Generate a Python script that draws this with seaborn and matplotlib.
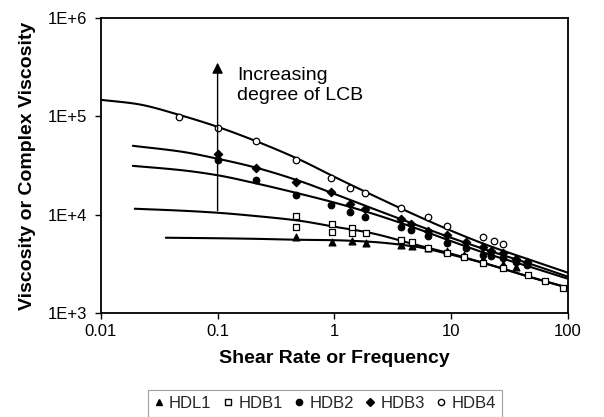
import matplotlib
matplotlib.use("Agg")
import matplotlib.pyplot as plt
from matplotlib.lines import Line2D
from matplotlib.ticker import FixedLocator, FixedFormatter, NullLocator
import seaborn as sns
import pandas as pd
import numpy as np

# ---------------- data ----------------
# fitted model curves (x = shear rate / frequency, y = viscosity)
hdb4_curve_x = [0.01, 0.02, 0.05, 0.1, 0.2, 0.5, 1, 2, 5, 10, 20, 50, 100]
hdb4_curve_y = [147100, 134000, 101200, 78200, 57700, 36500, 24300, 16370, 9880, 6890, 4960, 3410, 2580]

hdb3_curve_x = [0.0188, 0.05, 0.1, 0.2, 0.5, 1, 2, 5, 10, 20, 50, 100]
hdb3_curve_y = [50200, 43600, 37100, 30700, 22100, 16300, 11900, 7910, 5840, 4410, 3110, 2350]

hdb2_curve_x = [0.0188, 0.05, 0.1, 0.2, 0.5, 1, 2, 5, 10, 20, 50, 100]
hdb2_curve_y = [31400, 28300, 25200, 21200, 16400, 13300, 10500, 7300, 5400, 4050, 2900, 2240]

hdb1_curve_x = [0.0195, 0.05, 0.1, 0.2, 0.5, 1, 2, 5, 10, 20, 50, 100]
hdb1_curve_y = [11510, 10990, 10480, 9770, 8700, 7560, 6570, 4960, 4020, 3180, 2290, 1815]

hdl1_curve_x = [0.036, 0.1, 0.2, 0.5, 1, 2, 5, 10, 20, 50, 100]
hdl1_curve_y = [5840, 5770, 5700, 5570, 5510, 5320, 4730, 3930, 3180, 2290, 1815]

# measured points
hdb4_x = [0.0466, 0.1, 0.213, 0.468, 0.933, 1.36, 1.83, 3.71, 6.33, 9.2, 18.7, 23.2, 27.7]
hdb4_y = [98900, 76400, 56400, 36100, 23800, 18800, 16700, 11780, 9550, 7730, 5980, 5450, 5080]

hdb23_x = [0.1, 0.213, 0.468, 0.933, 1.36, 1.83, 3.71, 4.5, 6.4, 9.2, 13.5, 18.7, 22, 27.7, 36, 45]
hdb3_y = [41600, 30000, 21600, 17100, 12940, 11510, 9110, 8110, 6880, 6270, 5320, 4730, 4310, 4110, 3570, 3330]
hdb2_y = [36100, 22600, 15970, 12650, 10720, 9550, 7560, 7050, 6120, 5200, 4630, 3930, 3840, 3660, 3330, 3110]

hdb1_x = [0.468, 0.468, 0.95, 0.95, 1.41, 1.41, 1.86, 3.71, 4.63, 6.4, 9.2, 12.8, 18.7, 27.7, 46, 64, 91]
hdb1_y = [9770, 7560, 8110, 6720, 7380, 6570, 6570, 5570, 5320, 4630, 4110, 3750, 3260, 2900, 2460, 2140, 1815]

hdl1_x = [0.468, 0.95, 1.41, 1.86, 3.71, 4.63, 6.4, 9.2, 12.8, 18.7, 27.7, 36]
hdl1_y = [5980, 5320, 5450, 5200, 4960, 4840, 4630, 4310, 3930, 3570, 3180, 2970]

series_names = ["HDL1", "HDB1", "HDB2", "HDB3", "HDB4"]
x_ticks = [0.01, 0.1, 1, 10, 100]
x_tick_labels = ["0.01", "0.1", "1", "10", "100"]
y_ticks = [1e3, 1e4, 1e5, 1e6]
y_tick_labels = ["1E+3", "1E+4", "1E+5", "1E+6"]


def smooth_loglog(xs, ys, n=120):
    """Monotone cubic (Fritsch-Carlson) through the read points, in log-log space."""
    lx = np.log10(np.asarray(xs, float))
    ly = np.log10(np.asarray(ys, float))
    h = np.diff(lx)
    d = np.diff(ly) / h
    m = np.empty_like(lx)
    m[0], m[-1] = d[0], d[-1]
    for i in range(1, len(lx) - 1):
        if d[i - 1] * d[i] <= 0:
            m[i] = 0.0
        else:
            w1 = 2 * h[i] + h[i - 1]
            w2 = h[i] + 2 * h[i - 1]
            m[i] = (w1 + w2) / (w1 / d[i - 1] + w2 / d[i])
    t_all = np.linspace(lx[0], lx[-1], n)
    out = np.empty_like(t_all)
    for j, t in enumerate(t_all):
        k = min(np.searchsorted(lx, t, side="right") - 1, len(lx) - 2)
        s = (t - lx[k]) / h[k]
        h00 = 2 * s**3 - 3 * s**2 + 1
        h10 = s**3 - 2 * s**2 + s
        h01 = -2 * s**3 + 3 * s**2
        h11 = s**3 - s**2
        out[j] = h00 * ly[k] + h10 * h[k] * m[k] + h01 * ly[k + 1] + h11 * h[k] * m[k + 1]
    return 10 ** t_all, 10 ** out


# ---------------- build tables ----------------
curve_src = {
    "HDL1": (hdl1_curve_x, hdl1_curve_y),
    "HDB1": (hdb1_curve_x, hdb1_curve_y),
    "HDB2": (hdb2_curve_x, hdb2_curve_y),
    "HDB3": (hdb3_curve_x, hdb3_curve_y),
    "HDB4": (hdb4_curve_x, hdb4_curve_y),
}
frames = []
for name, (cx, cy) in curve_src.items():
    sx, sy = smooth_loglog(cx, cy)
    frames.append(pd.DataFrame({"x": sx, "y": sy, "s": name}))
curves = pd.concat(frames, ignore_index=True)

points = {
    "HDL1": (hdl1_x, hdl1_y, "^", "black"),
    "HDB1": (hdb1_x, hdb1_y, "s", "white"),
    "HDB2": (hdb23_x, hdb2_y, "o", "black"),
    "HDB3": (hdb23_x, hdb3_y, "D", "black"),
    "HDB4": (hdb4_x, hdb4_y, "o", "white"),
}

# ---------------- plot ----------------
sns.set_theme(style="white")
plt.rcParams["font.family"] = ["Liberation Sans", "DejaVu Sans"]

fig = plt.figure(figsize=(6.04, 4.17), dpi=100)
ax = fig.add_axes([0.167, 0.249, 0.773, 0.708])
ax.set_xscale("log")
ax.set_yscale("log")

sns.lineplot(data=curves, x="x", y="y", units="s", estimator=None, sort=False,
             color="black", linewidth=1.5, ax=ax, legend=False)

sizes = {"^": 24, "s": 24, "o": 22, "D": 18}
for name in series_names:
    px, py, mk, fc = points[name]
    sns.scatterplot(x=px, y=py, marker=mk, s=sizes[mk], facecolor=fc,
                    edgecolor="black", linewidth=0.9, ax=ax, legend=False, zorder=3)

ax.set_xlim(0.01, 100)
ax.set_ylim(1e3, 1e6)
ax.xaxis.set_major_locator(FixedLocator(x_ticks))
ax.xaxis.set_major_formatter(FixedFormatter(x_tick_labels))
ax.xaxis.set_minor_locator(NullLocator())
ax.yaxis.set_major_locator(FixedLocator(y_ticks))
ax.yaxis.set_major_formatter(FixedFormatter(y_tick_labels))
ax.yaxis.set_minor_locator(NullLocator())
ax.tick_params(axis="both", which="major", direction="out", length=4, width=1,
               color="black", labelsize=12, labelcolor="black",
               bottom=True, left=True)
ax.tick_params(axis="x", pad=4)
ax.tick_params(axis="y", pad=6)
for sp in ax.spines.values():
    sp.set_color("black")
    sp.set_linewidth(1.3)

ax.set_xlabel("Shear Rate or Frequency", fontsize=14, fontweight="bold", color="black", labelpad=8)
ax.set_ylabel("Viscosity or Complex Viscosity", fontsize=14, fontweight="bold", color="black", labelpad=8)

# arrow + annotation
ax.annotate("", xy=(0.1, 3.75e5), xytext=(0.1, 1.03e4),
            arrowprops=dict(arrowstyle="-|>", color="black", lw=1.0, mutation_scale=16))
ax.text(0.146, 3.2e5, "Increasing\ndegree of LCB", fontsize=14, va="top", ha="left",
        color="black", linespacing=1.25)

# legend
handles = [
    Line2D([], [], linestyle="none", marker="^", markersize=4.5, markerfacecolor="black", markeredgecolor="black"),
    Line2D([], [], linestyle="none", marker="s", markersize=4.5, markerfacecolor="white", markeredgecolor="black"),
    Line2D([], [], linestyle="none", marker="o", markersize=4.5, markerfacecolor="black", markeredgecolor="black"),
    Line2D([], [], linestyle="none", marker="D", markersize=4, markerfacecolor="black", markeredgecolor="black"),
    Line2D([], [], linestyle="none", marker="o", markersize=4.5, markerfacecolor="white", markeredgecolor="black"),
]
leg = fig.legend(handles, series_names, loc="lower center", bbox_to_anchor=(0.538, -0.02),
                 ncol=5, fontsize=12, frameon=True, fancybox=False, edgecolor="#888888",
                 handlelength=0.6, handletextpad=0.3, columnspacing=0.7, borderpad=0.35)
leg.get_frame().set_linewidth(0.8)

fig.savefig("out.png", dpi=100, facecolor="white")
